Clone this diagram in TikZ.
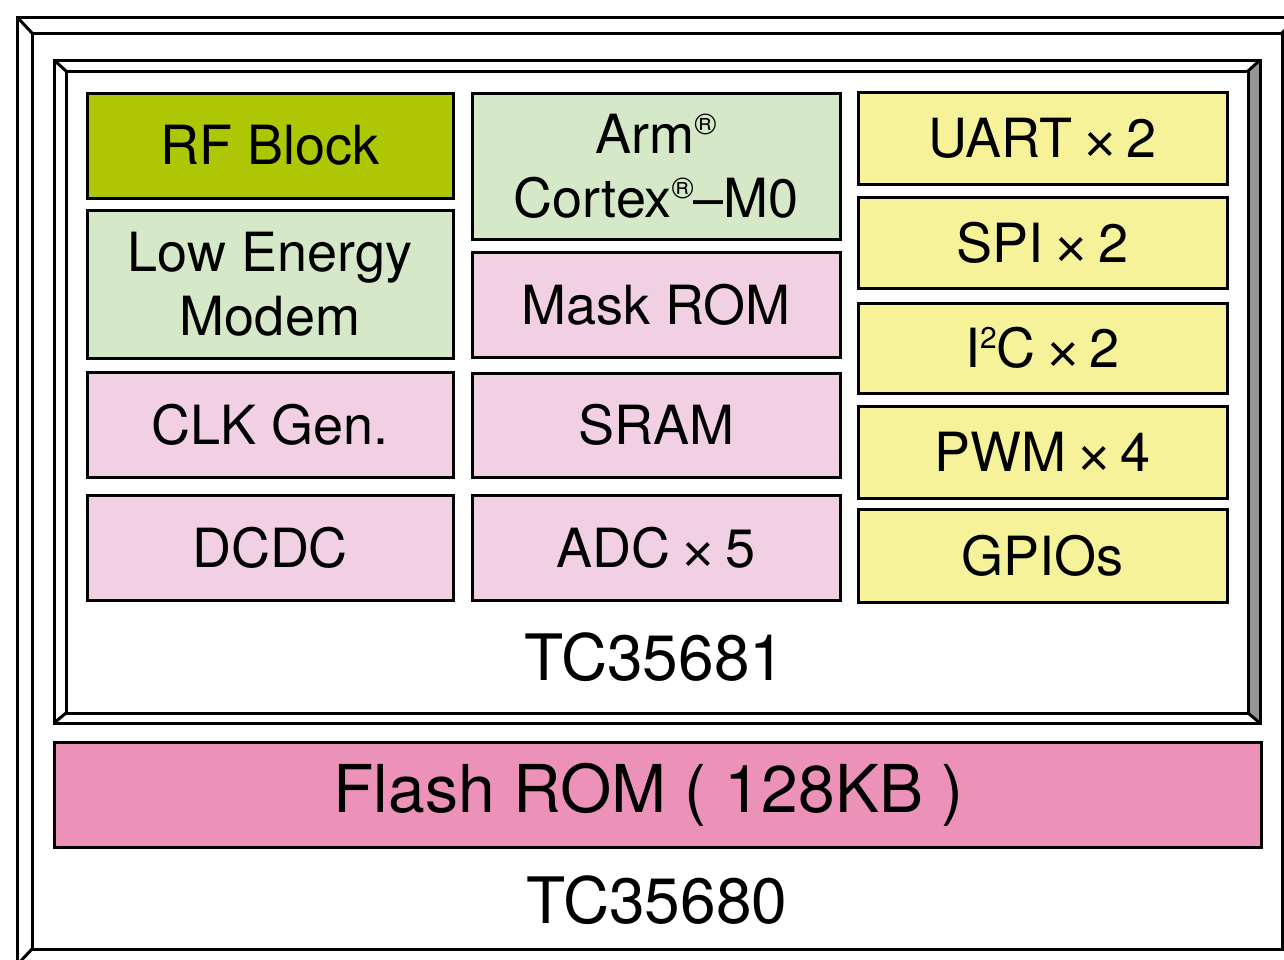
\documentclass[tikz,border=0pt]{standalone}
\usepackage{fontspec}
\setmainfont{TeX Gyre Heros}
\newfontfamily\crossfont{Liberation Sans}
\definecolor{rfgreen}{RGB}{174,199,4}
\definecolor{lgreen}{RGB}{213,232,200}
\definecolor{lpink}{RGB}{242,208,228}
\definecolor{lyellow}{RGB}{245,242,154}
\definecolor{fpink}{RGB}{236,146,185}
\definecolor{bevelgray}{RGB}{150,150,150}
\newcommand{\tms}{\hspace{0.22em}\raisebox{-5pt}[0pt][0pt]{\crossfont ×}\hspace{0.2em}}
\newcommand{\supsm}[1]{\raisebox{0.36em}{\fontsize{30}{30}\selectfont #1}}
\begin{document}
\begin{tikzpicture}[x=1pt,y=-1pt,line join=miter,
  blk/.style={draw=black,line width=3pt,inner sep=0pt,outer sep=0pt,anchor=north west,align=center,font=\fontsize{54}{64}\selectfont},
  frameline/.style={draw=black,line width=3pt},
  lbl/.style={inner sep=0pt,font=\fontsize{64}{70}\selectfont}]
\useasboundingbox (0,0) rectangle (1284,959);
\fill[white] (0,0) rectangle (1284,959);
% outer frame (TC35680), cut by the picture edge
\begin{scope}
  \clip (0,0) rectangle (1284,959);
  \draw[frameline] (17,17) rectangle (1298,965);
  \draw[frameline] (32,33) rectangle (1282,949);
  \draw[frameline] (17,17) -- (32,33) (1298,17) -- (1282,33) (17,965) -- (32,949);
\end{scope}
% inner frame (TC35681)
\fill[bevelgray] (1248,71) -- (1260,60) -- (1260,723) -- (1248,713) -- cycle;
\draw[frameline] (54,60) rectangle (1260,723);
\draw[frameline] (66,71) rectangle (1248,713);
\draw[frameline] (54,60) -- (66,71) (1260,60) -- (1248,71) (54,723) -- (66,713) (1260,723) -- (1248,713);
% column 1
\node[blk,fill=rfgreen,minimum width=366pt,minimum height=105pt] (rf) at (87,93) {RF Block};
\node[blk,fill=lgreen,minimum width=366pt,minimum height=148pt] (lem) at (87,210) {Low Energy\\Modem};
\node[blk,fill=lpink,minimum width=366pt,minimum height=105pt] (clk) at (87,372) {CLK Gen.};
\node[blk,fill=lpink,minimum width=366pt,minimum height=105pt] (dcdc) at (87,495) {DCDC};
% column 2
\node[blk,fill=lgreen,minimum width=368pt,minimum height=146pt] (arm) at (472,93) {Arm\supsm{®}\\Cortex\supsm{®}–M0};
\node[blk,fill=lpink,minimum width=368pt,minimum height=105pt] (mask) at (472,252) {Mask ROM};
\node[blk,fill=lpink,minimum width=368pt,minimum height=104pt] (sram) at (472,373) {SRAM};
\node[blk,fill=lpink,minimum width=368pt,minimum height=105pt] (adc) at (472,495) {ADC\tms 5};
% column 3
\node[blk,fill=lyellow,minimum width=369pt,minimum height=92pt] (uart) at (858,92) {UART\tms 2};
\node[blk,fill=lyellow,minimum width=369pt,minimum height=91pt] (spi) at (858,197) {SPI\tms 2};
\node[blk,fill=lyellow,minimum width=369pt,minimum height=90pt] (i2c) at (858,303) {I\supsm{2}C\tms 2};
\node[blk,fill=lyellow,minimum width=369pt,minimum height=92pt] (pwm) at (858,406) {PWM\tms 4};
\node[blk,fill=lyellow,minimum width=369pt,minimum height=93pt] (gpio) at (858,509) {GPIOs};
% flash
\node[blk,fill=fpink,minimum width=1207pt,minimum height=105pt,font=\fontsize{66}{70}\selectfont] (flash) at (54,742) {\hspace{-18pt}Flash ROM ( 128KB )};
% chip labels
\node[lbl] (tc81) at (655,657) {TC35681};
\node[lbl] (tc80) at (657,900) {TC35680};
\end{tikzpicture}
\end{document}
